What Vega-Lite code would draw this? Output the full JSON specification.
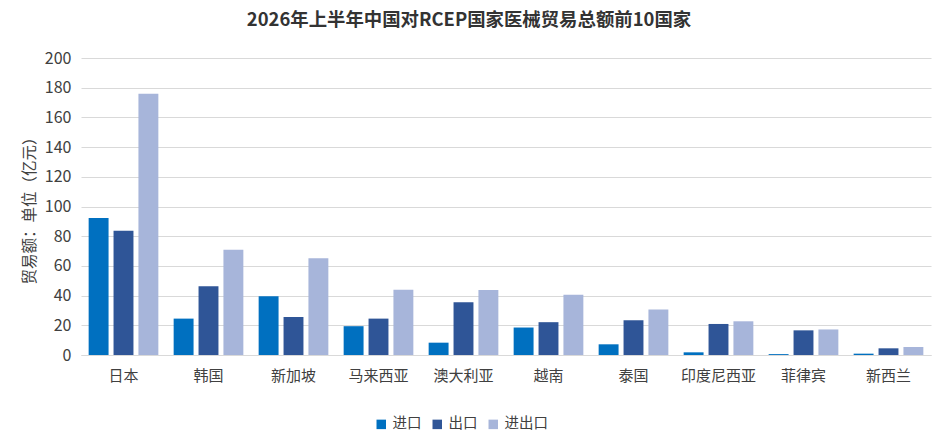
{
  "$schema": "https://vega.github.io/schema/vega-lite/v6.json",
  "description": "2026年上半年中国对RCEP国家医械贸易总额前10国家",
  "autosize": "none",
  "width": 850,
  "height": 297,
  "padding": {"left": 81, "top": 58, "right": 5, "bottom": 84},
  "background": "white",
  "config": {
    "view": {"stroke": null},
    "font": "Noto Sans CJK SC"
  },
  "title": {
    "text": "2026年上半年中国对RCEP国家医械贸易总额前10国家",
    "fontSize": 18.4,
    "fontWeight": "bold",
    "color": "#333333",
    "anchor": "middle",
    "dx": -37,
    "offset": 21
  },
  "data": {
    "values": [
      {"country": "日本", "type": "进口", "value": 92.3},
      {"country": "日本", "type": "出口", "value": 83.6},
      {"country": "日本", "type": "进出口", "value": 175.9},
      {"country": "韩国", "type": "进口", "value": 24.5},
      {"country": "韩国", "type": "出口", "value": 46.3},
      {"country": "韩国", "type": "进出口", "value": 70.8},
      {"country": "新加坡", "type": "进口", "value": 39.5},
      {"country": "新加坡", "type": "出口", "value": 25.6},
      {"country": "新加坡", "type": "进出口", "value": 65.1},
      {"country": "马来西亚", "type": "进口", "value": 19.4},
      {"country": "马来西亚", "type": "出口", "value": 24.5},
      {"country": "马来西亚", "type": "进出口", "value": 43.9},
      {"country": "澳大利亚", "type": "进口", "value": 8.3},
      {"country": "澳大利亚", "type": "出口", "value": 35.5},
      {"country": "澳大利亚", "type": "进出口", "value": 43.8},
      {"country": "越南", "type": "进口", "value": 18.5},
      {"country": "越南", "type": "出口", "value": 22.1},
      {"country": "越南", "type": "进出口", "value": 40.6},
      {"country": "泰国", "type": "进口", "value": 7.2},
      {"country": "泰国", "type": "出口", "value": 23.4},
      {"country": "泰国", "type": "进出口", "value": 30.6},
      {"country": "印度尼西亚", "type": "进口", "value": 1.8},
      {"country": "印度尼西亚", "type": "出口", "value": 20.9},
      {"country": "印度尼西亚", "type": "进出口", "value": 22.7},
      {"country": "菲律宾", "type": "进口", "value": 0.6},
      {"country": "菲律宾", "type": "出口", "value": 16.6},
      {"country": "菲律宾", "type": "进出口", "value": 17.2},
      {"country": "新西兰", "type": "进口", "value": 0.9},
      {"country": "新西兰", "type": "出口", "value": 4.5},
      {"country": "新西兰", "type": "进出口", "value": 5.4}
    ]
  },
  "mark": {"type": "bar", "tooltip": true},
  "encoding": {
    "x": {
      "field": "country",
      "type": "nominal",
      "sort": null,
      "scale": {"paddingInner": 0.18, "paddingOuter": 0.09},
      "axis": {
        "title": null,
        "labelAngle": 0,
        "labelFontSize": 15,
        "labelColor": "#404040",
        "labelPadding": 13,
        "ticks": false,
        "domainColor": "#D9D9D9",
        "domainWidth": 1
      }
    },
    "xOffset": {
      "field": "type",
      "type": "nominal",
      "sort": ["进口", "出口", "进出口"],
      "scale": {"paddingInner": 0.2}
    },
    "y": {
      "field": "value",
      "type": "quantitative",
      "scale": {"domain": [0, 200]},
      "axis": {
        "title": "贸易额：单位（亿元）",
        "titleFontSize": 15.5,
        "titleFontWeight": "normal",
        "titleColor": "#404040",
        "titlePadding": 7,
        "tickCount": 10,
        "labelFontSize": 16,
        "labelColor": "#404040",
        "labelPadding": 10,
        "ticks": false,
        "domain": false,
        "gridColor": "#D9D9D9",
        "gridWidth": 1
      }
    },
    "color": {
      "field": "type",
      "type": "nominal",
      "sort": ["进口", "出口", "进出口"],
      "scale": {
        "domain": ["进口", "出口", "进出口"],
        "range": ["#0070C0", "#2F5597", "#A7B5DA"]
      },
      "legend": {
        "title": null,
        "orient": "none",
        "direction": "horizontal",
        "legendX": 293,
        "legendY": 359,
        "symbolType": "square",
        "symbolSize": 90,
        "symbolStrokeWidth": 0,
        "labelFontSize": 14.5,
        "labelColor": "#404040",
        "labelOffset": 4,
        "columnPadding": 8
      }
    },
    "tooltip": [
      {"field": "country", "type": "nominal", "title": "国家"},
      {"field": "type", "type": "nominal", "title": "类型"},
      {"field": "value", "type": "quantitative", "title": "贸易额（亿元）"}
    ]
  }
}
